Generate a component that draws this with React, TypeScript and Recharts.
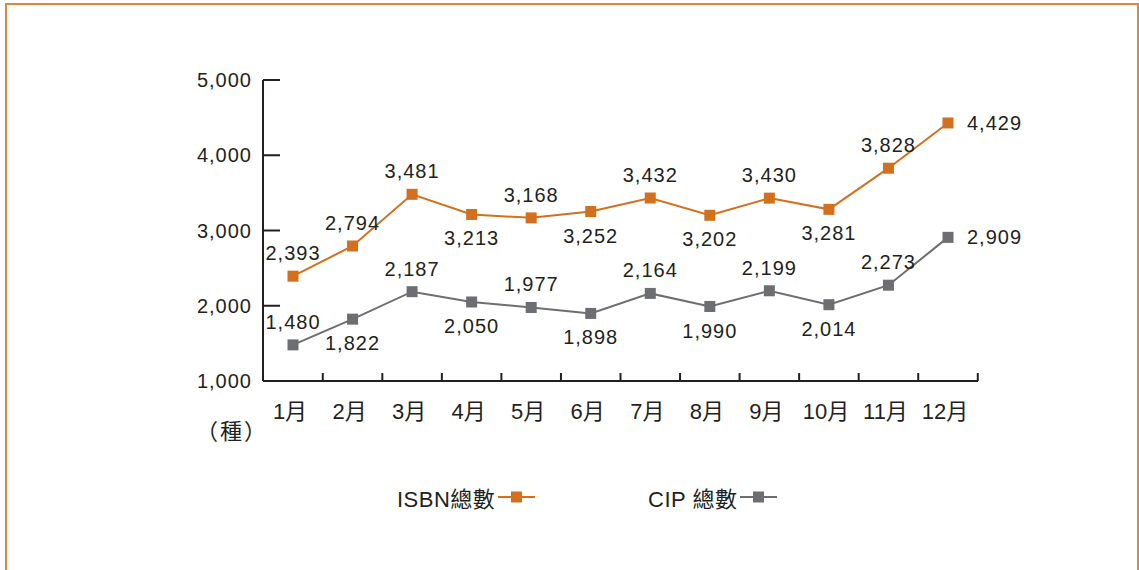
import { LineChart, Line, XAxis, YAxis, Legend, LabelList } from 'recharts';

const months = ['1月', '2月', '3月', '4月', '5月', '6月', '7月', '8月', '9月', '10月', '11月', '12月'];
const isbnTotals = [2393, 2794, 3481, 3213, 3168, 3252, 3432, 3202, 3430, 3281, 3828, 4429];
const cipTotals = [1480, 1822, 2187, 2050, 1977, 1898, 2164, 1990, 2199, 2014, 2273, 2909];
const yTicks = [1000, 2000, 3000, 4000, 5000];

// where each value label sits relative to its point
const isbnLabelPos = ['top', 'top', 'top', 'bottom', 'top', 'bottom', 'top', 'bottom', 'top', 'bottom', 'top', 'right'];
const cipLabelPos = ['top', 'bottom', 'top', 'bottom', 'top', 'bottom', 'top', 'bottom', 'top', 'bottom', 'top', 'right'];

const data = months.map((m, i) => ({ month: m, isbn: isbnTotals[i], cip: cipTotals[i] }));

const ORANGE = '#d2701d';
const GRAY = '#6d6e71';
const INK = '#231f20';
const FONT = '"Liberation Sans", Arial, "Noto Sans CJK TC", sans-serif';

const W = 1139;
const H = 570;
const PLOT_LEFT = 263;
const PLOT_RIGHT = 978;
const PAD = 30;
const STEP = (PLOT_RIGHT - PLOT_LEFT - 2 * PAD) / (months.length - 1);

const squareDot = (color: string) => (props: any) => {
  const { cx, cy, index } = props;
  return <rect key={index} x={cx - 5.5} y={cy - 5.5} width={11} height={11} fill={color} />;
};

const makeLabel = (pos: string[]) => (props: any) => {
  const { x, y, value, index } = props;
  const p = pos[index];
  let tx = x;
  let ty = y;
  let anchor: 'middle' | 'start' = 'middle';
  if (p === 'top') ty = y - 23;
  else if (p === 'bottom') ty = y + 24;
  else {
    tx = x + 19;
    anchor = 'start';
  }
  return (
    <text key={index} x={tx} y={ty} textAnchor={anchor} dominantBaseline="central"
      fontSize={20} fontFamily={FONT} fill={INK} letterSpacing={1}>
      {Number(value).toLocaleString('en-US')}
    </text>
  );
};

const YTick = (props: any) => {
  const { x, y, payload } = props;
  const axisX = x + 11;
  return (
    <g>
      <line x1={axisX} x2={axisX + 17} y1={y} y2={y} stroke={INK} strokeWidth={2} />
      <text x={x} y={y} textAnchor="end" dominantBaseline="central" fontSize={20}
        fontFamily={FONT} fill={INK} letterSpacing={1}>
        {Number(payload.value).toLocaleString('en-US')}
      </text>
    </g>
  );
};

const XTick = (props: any) => {
  const { x, y, payload } = props;
  const axisY = y - 20;
  const bx = x + STEP / 2;
  return (
    <g>
      <line x1={bx} x2={bx} y1={axisY} y2={axisY - 8} stroke={INK} strokeWidth={2} />
      <text x={x - 3} y={y + 10} textAnchor="middle" dominantBaseline="central" fontSize={22}
        fontFamily={FONT} fill={INK}>
        {payload.value}
      </text>
    </g>
  );
};

const LegendItem = ({ label, color, left }: { label: string; color: string; left: number }) => (
  <div style={{ position: 'absolute', left, top: 0, display: 'flex', alignItems: 'center', height: 34 }}>
    <span style={{ fontSize: 22, fontFamily: FONT, color: INK, whiteSpace: 'nowrap', letterSpacing: 0.5 }}>{label}</span>
    <svg width={40} height={14} style={{ marginLeft: 3 }}>
      <line x1={0} x2={37} y1={7} y2={7} stroke={color} strokeWidth={2} />
      <rect x={13} y={1.5} width={11} height={11} fill={color} />
    </svg>
  </div>
);

const renderLegend = () => (
  <div style={{ position: 'relative', width: W, height: 34 }}>
    <LegendItem label="ISBN總數" color={ORANGE} left={397} />
    <LegendItem label="CIP 總數" color={GRAY} left={648} />
  </div>
);

export default function App() {
  return (
    <div style={{ position: 'absolute', left: 0, top: 0, width: W, height: H, overflow: 'hidden', background: '#fff' }}>
      <div style={{ position: 'absolute', left: 5, top: 3, width: W - 5, height: H + 40, border: '2px solid #dc8740', boxSizing: 'border-box' }} />
      <div style={{ position: 'absolute', left: 196, top: 413, fontSize: 22, fontFamily: FONT, color: INK, letterSpacing: 2 }}>（種）</div>
      <div style={{ position: 'absolute', left: 0, top: 0 }}>
        <LineChart width={W} height={H} data={data}
          margin={{ top: 80, right: W - PLOT_RIGHT, left: 0, bottom: H - 381 - 30 }}>
          <XAxis dataKey="month" height={30} padding={{ left: PAD, right: PAD }}
            axisLine={{ stroke: INK, strokeWidth: 2 }} tickLine={false} tickSize={0} tickMargin={20}
            tick={<XTick />} interval={0} />
          <YAxis width={PLOT_LEFT} domain={[1000, 5000]} ticks={yTicks} type="number"
            axisLine={{ stroke: INK, strokeWidth: 2 }} tickLine={false} tickSize={0} tickMargin={11}
            tick={<YTick />} interval={0} />
          <Legend verticalAlign="middle" align="center" layout="horizontal" content={renderLegend}
            wrapperStyle={{ left: 0, top: 480, width: W }} />
          <Line dataKey="isbn" name="ISBN總數" stroke={ORANGE} strokeWidth={2} isAnimationActive={false}
            dot={squareDot(ORANGE)} activeDot={false}>
            <LabelList dataKey="isbn" content={makeLabel(isbnLabelPos)} />
          </Line>
          <Line dataKey="cip" name="CIP 總數" stroke={GRAY} strokeWidth={2} isAnimationActive={false}
            dot={squareDot(GRAY)} activeDot={false}>
            <LabelList dataKey="cip" content={makeLabel(cipLabelPos)} />
          </Line>
        </LineChart>
      </div>
    </div>
  );
}
